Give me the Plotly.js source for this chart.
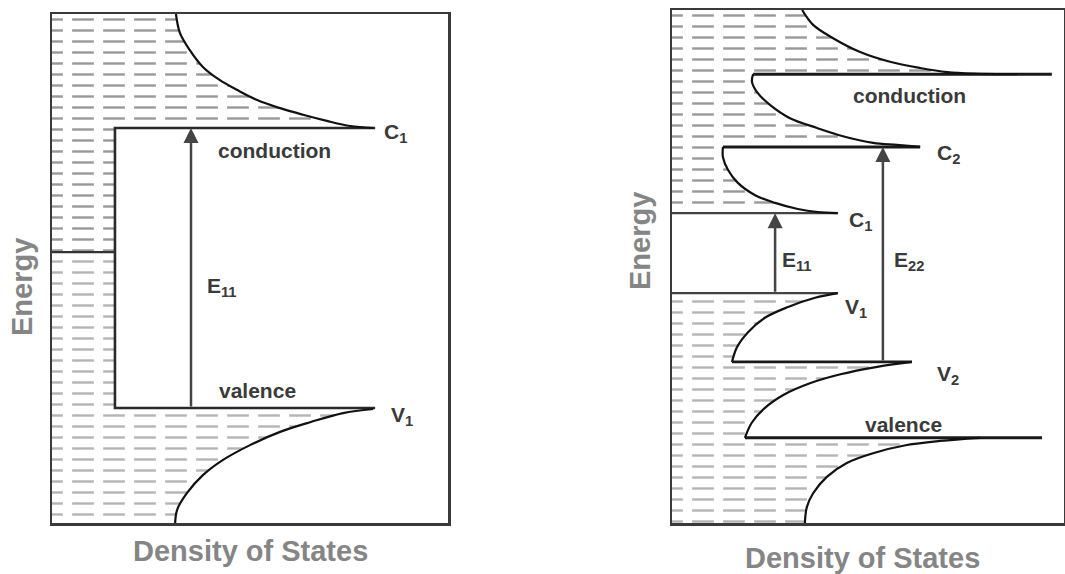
<!DOCTYPE html>
<html>
<head>
<meta charset="utf-8">
<script src="https://cdn.plot.ly/plotly-3.0.1.min.js"></script>
<style>html,body{margin:0;padding:0;background:#fff;}#chart{width:1065px;height:574px;}</style>
</head>
<body>
<div id="chart"></div>
<script>
// ---------- LEFT PANEL (bulk) : DOS (0-100) vs Energy (0-100) ----------
const leftCondDOS = [31.3, 32.3, 34.8, 38.1, 42.4, 46.7, 51.8, 57.6, 63.4, 69.4, 75.3, 81.1];
const leftCondE   = [100, 96.3, 92.9, 89.6, 87.0, 85.1, 83.1, 81.5, 80.2, 79.0, 78.0, 77.6];
const leftValDOS  = [81.1, 73.5, 65.2, 57.6, 50.0, 43.2, 38.1, 34.1, 31.6, 31.1];
const leftValE    = [22.4, 21.6, 19.8, 17.9, 15.3, 12.4, 9.4, 5.9, 2.6, 0];
const leftLevelNames = ['C<sub>1</sub>', 'V<sub>1</sub>'];
const leftLevelE     = [77.6, 22.6];
const leftLevelEnd   = [81.6, 81.6];
const leftGapDOS = 15.9;
const leftMidE = 53.2;
const leftArrowDOS = 35.1;

// ---------- RIGHT PANEL (nanotube) ----------
const rTopDOS = [33.2, 36.0, 41.1, 48.0, 55.6, 63.3, 70.2, 76.8, 88.0];
const rTopE   = [100, 97.1, 94.5, 91.8, 89.9, 88.7, 87.9, 87.6, 87.5];
const rC2DOS  = [20.7, 20.4, 21.7, 25.0, 30.1, 37.0, 43.6, 51.3, 57.4, 63.3];
const rC2E    = [87.5, 86.0, 84.0, 81.5, 78.9, 77.0, 75.4, 74.1, 73.7, 73.3];
const rC1DOS  = [13.0, 13.0, 14.3, 16.8, 21.2, 26.3, 32.1, 37.2, 42.3];
const rC1E    = [73.3, 71.3, 68.8, 66.3, 63.9, 62.4, 61.2, 60.6, 60.4];
const rV1DOS  = [42.3, 36.5, 29.6, 23.7, 19.4, 16.6, 15.3];
const rV1E    = [44.8, 43.9, 42.1, 40.0, 37.2, 34.3, 31.4];
const rV2DOS  = [61.2, 52.0, 43.0, 35.0, 28.5, 23.5, 20.3, 18.6];
const rV2E    = [31.4, 30.4, 29.0, 27.2, 25.0, 22.3, 19.5, 16.6];
const rBotDOS = [78.6, 68.4, 59.9, 51.3, 44.6, 39.5, 36.0, 34.4, 33.9];
const rBotE   = [16.6, 16.0, 15.2, 13.6, 11.7, 9.0, 5.8, 3.1, 0];
const rLevelE     = [87.5, 73.3, 60.4, 44.8, 31.4, 16.6];
const rLevelStart = [20.7, 13.0, 0, 0, 15.3, 18.6];
const rLevelEnd   = [96.9, 63.3, 42.3, 42.3, 61.2, 94.4];
const rLevelWidth = [3, 3, 2.2, 2.2, 2.6, 3];
const rArrowDOS = [26.3, 53.8];
const rArrowFrom = [44.8, 31.4];
const rArrowTo   = [60.4, 73.3];

const traces = [];
function hatch(xs, ys, xa, ya, col) {
  traces.push({x: xs, y: ys, xaxis: xa, yaxis: ya, mode: 'lines', fill: 'toself',
    line: {width: 0, color: 'rgba(0,0,0,0)'}, fillcolor: 'rgba(0,0,0,0)',
    fillpattern: {shape: '-', fgcolor: col, bgcolor: 'rgba(0,0,0,0)', size: 11, solidity: 0.22, fillmode: 'replace'},
    hoverinfo: 'skip', showlegend: false});
  traces.push({x: xs, y: ys, xaxis: xa, yaxis: ya, mode: 'lines', fill: 'toself',
    line: {width: 0, color: 'rgba(0,0,0,0)'}, fillcolor: 'rgba(0,0,0,0)',
    fillpattern: {shape: '|', fgcolor: '#ffffff', bgcolor: 'rgba(0,0,0,0)', size: 31, solidity: 0.3, fillmode: 'replace'},
    hoverinfo: 'skip', showlegend: false});
}
function line(xs, ys, xa, ya, w, col, shape) {
  traces.push({x: xs, y: ys, xaxis: xa, yaxis: ya, mode: 'lines',
    line: {width: w, color: col, shape: shape || 'linear', smoothing: 1},
    hoverinfo: 'skip', showlegend: false});
}

// Left hatching
hatch([0, 0].concat(leftCondDOS, [leftGapDOS, leftGapDOS]),
      [leftMidE, 100].concat(leftCondE, [leftLevelE[0], leftMidE]), 'x', 'y', '#999999');
hatch([0, 0, leftGapDOS, leftGapDOS].concat(leftValDOS),
      [0, leftMidE, leftMidE, leftLevelE[1]].concat(leftValE), 'x', 'y', '#b5b5b5');
// Right hatching
hatch([0, 0].concat(rTopDOS, rC2DOS, rC1DOS),
      [rLevelE[2], 100].concat(rTopE, rC2E, rC1E), 'x2', 'y2', '#999999');
hatch([0].concat(rV1DOS, rV2DOS, rBotDOS, [0]),
      [rLevelE[3]].concat(rV1E, rV2E, rBotE, [0]), 'x2', 'y2', '#b5b5b5');

// Left lines
line([leftLevelEnd[0], leftGapDOS, leftGapDOS, leftLevelEnd[1]],
     [leftLevelE[0], leftLevelE[0], leftLevelE[1], leftLevelE[1]], 'x', 'y', 2.6, '#2a2a2a');
line([0, leftGapDOS], [leftMidE, leftMidE], 'x', 'y', 2.2, '#333');
line(leftCondDOS, leftCondE, 'x', 'y', 2.2, '#111', 'spline');
line(leftValDOS, leftValE, 'x', 'y', 2.2, '#111', 'spline');

// Right lines
for (let i = 0; i < rLevelE.length; i++) {
  line([rLevelStart[i], rLevelEnd[i]], [rLevelE[i], rLevelE[i]], 'x2', 'y2', rLevelWidth[i], i === 2 || i === 3 ? '#444' : '#1a1a1a');
}
[[rTopDOS, rTopE], [rC2DOS, rC2E], [rC1DOS, rC1E], [rV1DOS, rV1E], [rV2DOS, rV2E], [rBotDOS, rBotE]]
  .forEach(c => line(c[0], c[1], 'x2', 'y2', 2.2, '#111', 'spline'));

const lblFont = {family: 'Liberation Sans, Arial, sans-serif', size: 21, color: '#3a3a3a', weight: 'bold'};
const axFont = {family: 'Liberation Sans, Arial, sans-serif', size: 29, color: '#858585', weight: 'bold'};
function txt(x, y, t, xa, ya, anchor) {
  return {x: x, y: y, xref: xa, yref: ya, text: t, showarrow: false, font: lblFont,
    xanchor: anchor || 'left', yanchor: 'middle'};
}
function arrow(x, y0, y1, xa, ya) {
  return {x: x, y: y1, ax: x, ay: y0, xref: xa, yref: ya, axref: xa, ayref: ya, text: '',
    showarrow: true, arrowhead: 2, arrowsize: 1.2, arrowwidth: 2.5, arrowcolor: '#444', standoff: 0};
}

const annotations = [
  txt(83.4, 76.6, leftLevelNames[0], 'x', 'y'),
  txt(85.2, 21.0, leftLevelNames[1], 'x', 'y'),
  txt(56.3, 73.1, 'conduction', 'x', 'y', 'center'),
  txt(51.8, 26.1, 'valence', 'x', 'y', 'center'),
  txt(38.6, 46.4, 'E<sub>11</sub>', 'x', 'y'),
  arrow(leftArrowDOS, leftLevelE[1], leftLevelE[0], 'x', 'y'),

  txt(60.7, 83.4, 'conduction', 'x2', 'y2', 'center'),
  txt(59.0, 19.2, 'valence', 'x2', 'y2', 'center'),
  txt(67.1, 72.0, 'C<sub>2</sub>', 'x2', 'y2'),
  txt(44.6, 58.9, 'C<sub>1</sub>', 'x2', 'y2'),
  txt(43.6, 42.0, 'V<sub>1</sub>', 'x2', 'y2'),
  txt(67.1, 28.8, 'V<sub>2</sub>', 'x2', 'y2'),
  txt(27.6, 51.0, 'E<sub>11</sub>', 'x2', 'y2'),
  txt(56.1, 51.0, 'E<sub>22</sub>', 'x2', 'y2'),
  arrow(rArrowDOS[0], rArrowFrom[0], rArrowTo[0], 'x2', 'y2'),
  arrow(rArrowDOS[1], rArrowFrom[1], rArrowTo[1], 'x2', 'y2'),

  {x: 50, y: 0.040, xref: 'x', yref: 'paper', text: 'Density of States', showarrow: false, font: axFont, xanchor: 'center', yanchor: 'middle'},
  {x: 48.7, y: 0.028, xref: 'x2', yref: 'paper', text: 'Density of States', showarrow: false, font: axFont, xanchor: 'center', yanchor: 'middle'},
  {x: 22 / 1065, y: (574 - 287) / 574, xref: 'paper', yref: 'paper', text: 'Energy', textangle: -90, showarrow: false, font: axFont, xanchor: 'center', yanchor: 'middle'},
  {x: 640 / 1065, y: (574 - 241) / 574, xref: 'paper', yref: 'paper', text: 'Energy', textangle: -90, showarrow: false, font: axFont, xanchor: 'center', yanchor: 'middle'}
];

const axBase = {range: [0, 100], showgrid: false, zeroline: false, showticklabels: false, ticks: '',
  showline: true, mirror: true, linecolor: '#3a3a3a', linewidth: 2.5, fixedrange: true};

const layout = {
  width: 1065, height: 574, margin: {l: 0, r: 0, t: 0, b: 0},
  paper_bgcolor: '#fff', plot_bgcolor: '#fff', showlegend: false, hovermode: false,
  xaxis: Object.assign({}, axBase, {domain: [52 / 1065, 448 / 1065], anchor: 'y'}),
  yaxis: Object.assign({}, axBase, {domain: [(574 - 523) / 574, (574 - 14) / 574], anchor: 'x'}),
  xaxis2: Object.assign({}, axBase, {domain: [672 / 1065, 1064 / 1065], anchor: 'y2'}),
  yaxis2: Object.assign({}, axBase, {domain: [(574 - 523) / 574, (574 - 10) / 574], anchor: 'x2'}),
  annotations: annotations
};

Plotly.newPlot('chart', traces, layout, {staticPlot: true});
</script>
</body>
</html>
